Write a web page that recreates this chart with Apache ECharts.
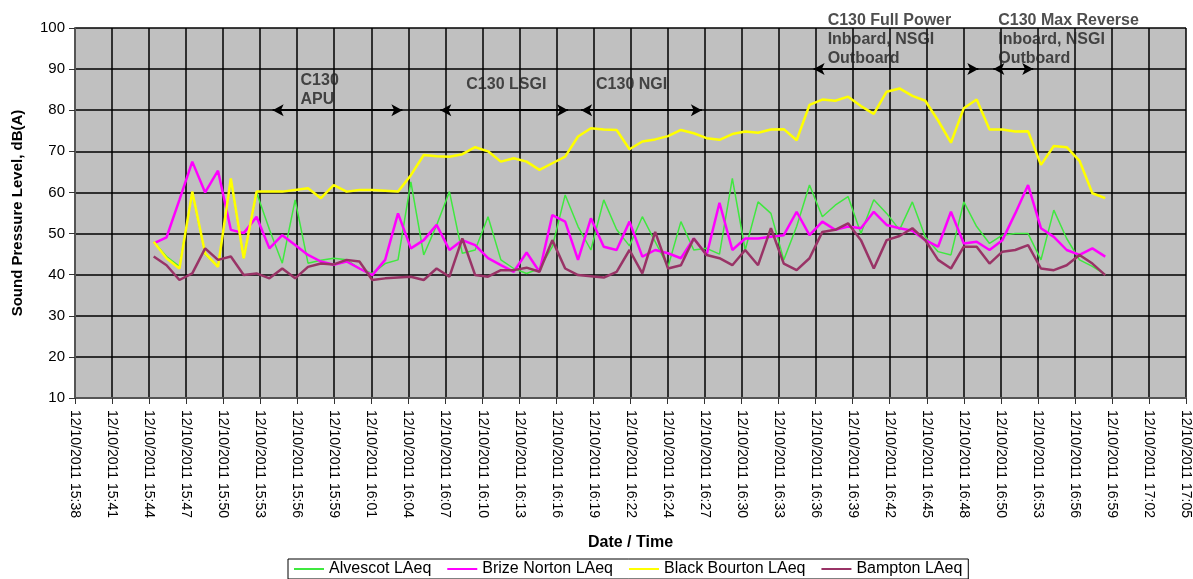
<!DOCTYPE html>
<html>
<head>
<meta charset="utf-8">
<script src="https://cdn.jsdelivr.net/npm/echarts@6/dist/echarts.min.js"></script>
<style>
  html, body { margin: 0; padding: 0; background: #fff; }
  #chart { width: 1193px; height: 579px; }
</style>
</head>
<body>
<div id="chart"></div>
<script>
// x axis is minutes of the day; Excel used a 0.002 day (2.88 min) major unit
const axisMin = 938.88
const axisMax = 1025.28
const axisStep = 2.88

const tickLabels = [
  '12/10/2011 15:38', '12/10/2011 15:41', '12/10/2011 15:44', '12/10/2011 15:47',
  '12/10/2011 15:50', '12/10/2011 15:53', '12/10/2011 15:56', '12/10/2011 15:59',
  '12/10/2011 16:01', '12/10/2011 16:04', '12/10/2011 16:07', '12/10/2011 16:10',
  '12/10/2011 16:13', '12/10/2011 16:16', '12/10/2011 16:19', '12/10/2011 16:22',
  '12/10/2011 16:24', '12/10/2011 16:27', '12/10/2011 16:30', '12/10/2011 16:33',
  '12/10/2011 16:36', '12/10/2011 16:39', '12/10/2011 16:42', '12/10/2011 16:45',
  '12/10/2011 16:48', '12/10/2011 16:50', '12/10/2011 16:53', '12/10/2011 16:56',
  '12/10/2011 16:59', '12/10/2011 17:02', '12/10/2011 17:05'
]

// one reading per minute, 15:45 .. 16:59
const firstSample = 15 * 60 + 45

const alvescot = [
  48, 44.4, 42, 60, 45, 42, 63, 44, 60, 51,
  42.8, 58.2, 42.8, 43.5, 44, 43.6, 41.5, 40.3, 42.7, 43.6,
  62.6, 44.8, 52, 60.2, 45.2, 46, 54.1, 43.6, 41.5, 40.3,
  41.5, 46.8, 59.4, 51.7, 46, 58.2, 51, 47, 54.1, 48,
  41.9, 52.9, 46, 46.4, 45, 63.4, 46, 57.7, 54.9, 43.6,
  51.7, 61.8, 54.1, 56.9, 59, 50, 58.2, 54.9, 50.9, 57.7,
  49.2, 45.6, 44.8, 57.7, 51.7, 47.6, 49.6, 50, 50, 43.6,
  55.7, 48.8, 43.6, 42, 40
]

const brizeNorton = [
  47.6, 49.1, 58.2, 67.5, 60, 65.3, 50.9, 50.1, 54.1, 46.4,
  49.6, 47.2, 44.8, 43.2, 42.4, 43.2, 41.5, 39.9, 43.6, 54.9,
  46.4, 48.4, 52.1, 46, 48.4, 47.2, 44, 42.3, 40.7, 45.4,
  40.7, 54.5, 52.9, 43.6, 53.7, 46.8, 46, 52.9, 44.4, 46,
  45.2, 44, 48.8, 44.8, 57.5, 46, 48.8, 48.8, 49.2, 49.6,
  55.3, 49.6, 52.9, 50.9, 51.7, 51.3, 55.3, 52.1, 51.3, 50.7,
  48.4, 46.8, 55.3, 47.6, 48, 46, 48.4, 54.9, 61.8, 51.3,
  49.2, 46, 44.8, 46.4, 44.4
]

const blackBourton = [
  48, 44, 41.5, 60.2, 45.2, 41.9, 63.4, 44, 60.2, 60.2,
  60.2, 60.6, 61, 58.6, 61.8, 60.2, 60.6, 60.6, 60.4, 60.2,
  64.2, 69.1, 68.8, 68.7, 69.3, 71, 70, 67.5, 68.3, 67.5,
  65.5, 67.1, 68.7, 73.6, 75.6, 75.3, 75.2, 70.5, 72.4, 72.9,
  73.7, 75.2, 74.4, 73.2, 72.8, 74.2, 74.8, 74.5, 75.3, 75.4,
  72.7, 81.3, 82.6, 82.3, 83.3, 81, 79.1, 84.5, 85.3, 83.5,
  82.3, 77.5, 72.1, 80.5, 82.6, 75.3, 75.3, 74.8, 74.9, 66.7,
  71.3, 71, 67.7, 59.8, 58.6
]

const bampton = [
  44.4, 42.3, 38.7, 40.3, 46.4, 43.6, 44.4, 39.9, 40.3, 39.1,
  41.5, 39.1, 41.9, 42.7, 42.5, 43.6, 43.2, 38.7, 39.1, 39.3,
  39.5, 38.7, 41.5, 39.5, 48.8, 39.9, 39.5, 41.1, 41.1, 41.7,
  40.7, 48.4, 41.5, 39.9, 39.6, 39.3, 40.7, 46, 40.3, 50.4,
  41.5, 42.3, 48.8, 44.8, 44, 42.3, 46, 42.3, 51.3, 42.7,
  41.1, 44, 50.4, 50.9, 52.5, 48.4, 41.5, 48.4, 49.4, 51.3,
  48.4, 43.6, 41.5, 46.8, 46.8, 42.7, 45.6, 46, 47.2, 41.5,
  41.1, 42.3, 44.8, 42.7, 39.9
]

// test phases drawn as double-headed arrows: [start minute, end minute, level]
const phaseArrows = [
  [954.25, 964.34, 80],
  [967.29, 977.23, 80],
  [978.24, 987.63, 80],
  [996.32, 1009.13, 90],
  [1010.3, 1013.4, 90]
]

// phase captions: [minute, level at text top, text]
const phaseTexts = [
  [956.42, 89.6, 'C130\nAPU'],
  [969.31, 88.6, 'C130 LSGI'],
  [979.4, 88.6, 'C130 NGI'],
  [997.41, 104.2, 'C130 Full Power\nInboard, NSGI\nOutboard'],
  [1010.68, 104.2, 'C130 Max Reverse\nInboard, NSGI\nOutboard']
]

const font = 'Liberation Sans, Arial, sans-serif'

function toPoints(values) {
  return values.map((v, i) => [firstSample + i, v])
}

function lineSeries(name, values, color, width) {
  return {
    name,
    type: 'line',
    data: toPoints(values),
    symbol: 'none',
    lineStyle: { color, width },
    itemStyle: { color },
    emphasis: { disabled: true },
    animation: false
  }
}

const chart = echarts.init(document.getElementById('chart'))

chart.setOption({
  backgroundColor: '#fff',
  animation: false,
  textStyle: { fontFamily: font },
  grid: {
    left: 75,
    right: 7,
    top: 28,
    bottom: 181,
    show: true,
    backgroundColor: '#c0c0c0',
    borderWidth: 0
  },
  legend: {
    data: ['Alvescot LAeq', 'Brize Norton LAeq', 'Black Bourton LAeq', 'Bampton LAeq'],
    bottom: 0,
    left: 288,
    icon: 'rect',
    itemWidth: 30,
    itemHeight: 2,
    itemGap: 16,
    padding: [2, 6],
    borderColor: '#000',
    borderWidth: 1,
    textStyle: { color: '#000', fontSize: 16, fontFamily: font }
  },
  xAxis: {
    type: 'value',
    min: axisMin,
    max: axisMax,
    interval: axisStep,
    name: 'Date / Time',
    nameLocation: 'middle',
    nameGap: 137,
    nameTextStyle: { color: '#000', fontSize: 16, fontWeight: 'bold', fontFamily: font },
    axisLine: { show: true, lineStyle: { color: '#555', width: 2 } },
    axisTick: { show: true, length: 6, lineStyle: { color: '#333' } },
    axisLabel: {
      rotate: -90,
      margin: 12,
      color: '#000',
      fontSize: 14,
      fontFamily: font,
      showMinLabel: true,
      showMaxLabel: true,
      formatter: (v) => tickLabels[Math.round((v - axisMin) / axisStep)]
    },
    splitLine: { show: true, lineStyle: { color: '#000', width: 1.5 } }
  },
  yAxis: {
    type: 'value',
    min: 10,
    max: 100,
    interval: 10,
    name: 'Sound Pressure Level, dB(A)',
    nameLocation: 'middle',
    nameRotate: 90,
    nameGap: 50,
    nameTextStyle: { color: '#000', fontSize: 15, fontWeight: 'bold', fontFamily: font },
    axisLine: { show: true, lineStyle: { color: '#555', width: 2 } },
    axisTick: { show: true, length: 6, lineStyle: { color: '#333' } },
    axisLabel: { color: '#000', fontSize: 15, margin: 10, fontFamily: font },
    splitLine: { show: true, lineStyle: { color: '#000', width: 1.5 } }
  },
  series: [
    lineSeries('Alvescot LAeq', alvescot, '#3fe83f', 1.5),
    lineSeries('Brize Norton LAeq', brizeNorton, '#ff00ff', 2.5),
    lineSeries('Black Bourton LAeq', blackBourton, '#ffff00', 2.5),
    lineSeries('Bampton LAeq', bampton, '#993366', 2.5),
    {
      name: 'phases',
      type: 'scatter',
      clip: false,
      symbolSize: 0,
      silent: true,
      animation: false,
      data: phaseTexts.map((p) => [p[0], p[1], p[2]]),
      label: {
        show: true,
        position: [0, 0],
        align: 'left',
        verticalAlign: 'top',
        formatter: (p) => p.value[2],
        color: '#222',
        fontSize: 16,
        fontWeight: 'bold',
        lineHeight: 19,
        fontFamily: font
      },
      markLine: {
        silent: true,
        animation: false,
        symbol: ['arrow', 'arrow'],
        symbolSize: [9, 11],
        label: { show: false },
        lineStyle: { color: '#000', width: 2, type: 'solid' },
        data: phaseArrows.map((a) => [{ coord: [a[0], a[2]] }, { coord: [a[1], a[2]] }])
      }
    }
  ]
})
</script>
</body>
</html>
